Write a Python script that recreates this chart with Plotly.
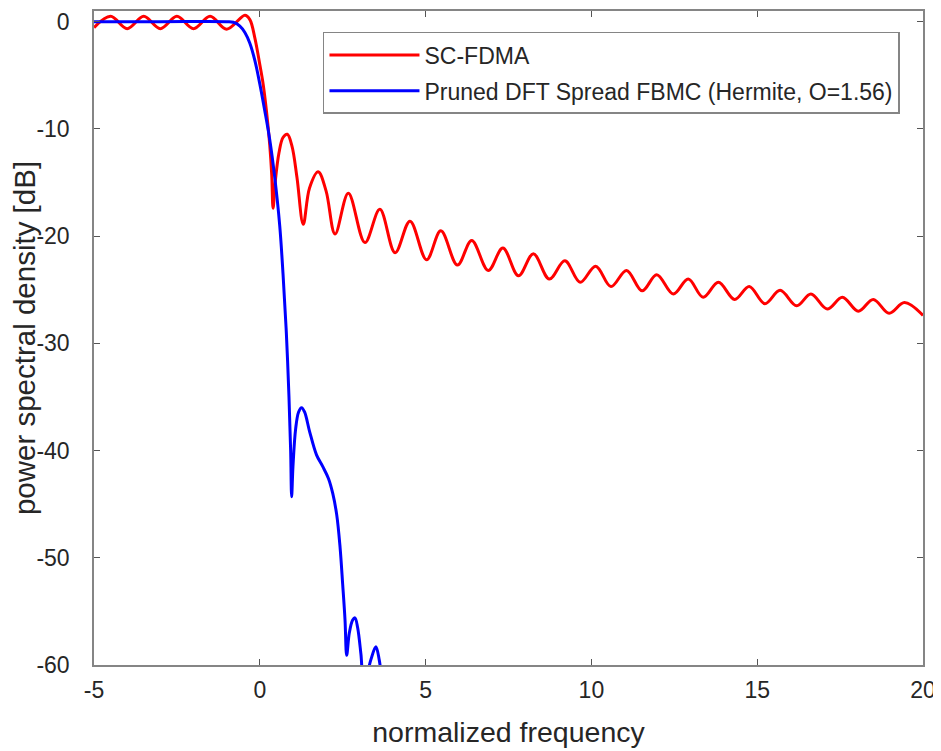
import plotly.graph_objects as go

# ---- data ----
sc_fdma_x = [-5.0, -4.5, -4.0, -3.5, -3.0, -2.5, -2.0, -1.5, -1.0, -0.45,
             -0.3, -0.15, 0.0, 0.1, 0.2, 0.3, 0.36, 0.4, 0.47, 0.58, 0.7,
             0.83, 0.97, 1.12, 1.31, 1.5, 1.76, 2.0, 2.27, 2.67, 3.17, 3.62,
             4.08, 4.53, 5.03, 5.46, 5.96, 6.39, 6.89, 7.33, 7.8, 8.25, 8.73,
             9.2, 9.66, 10.13, 10.59, 11.06, 11.53, 11.97, 12.47, 12.92,
             13.37, 13.83, 14.32, 14.76, 15.23, 15.69, 16.19, 16.62, 17.11,
             17.57, 18.05, 18.5, 18.98, 19.44, 20.0]
sc_fdma_y = [-0.55, 0.5, -0.65, 0.5, -0.65, 0.5, -0.65, 0.5, -0.7, 0.6,
             0.2, -1.5, -4.0, -5.8, -8.3, -11.5, -14.3, -17.4, -14.8, -12.2,
             -10.8, -10.5, -11.6, -14.5, -18.9, -15.5, -14.0, -15.8, -19.8,
             -16.0, -20.6, -17.5, -21.55, -18.6, -22.2, -19.5, -22.7, -20.4,
             -23.2, -21.1, -23.7, -21.65, -24.0, -22.3, -24.3, -22.8, -24.7,
             -23.2, -25.1, -23.6, -25.4, -24.0, -25.7, -24.3, -25.9, -24.7,
             -26.3, -25.05, -26.5, -25.4, -26.8, -25.7, -27.0, -25.9, -27.2,
             -26.2, -27.4]

fbmc_x = [-5.0, -3.0, -1.0, -0.8, -0.6, -0.45, -0.3, -0.15, 0.0, 0.15, 0.3,
          0.45, 0.6, 0.7, 0.8, 0.88, 0.93, 0.96, 1.0, 1.08, 1.17, 1.26, 1.35,
          1.5, 1.71, 1.9, 2.07, 2.2, 2.32, 2.42, 2.5, 2.57, 2.62, 2.7, 2.8,
          2.87, 2.95, 3.05, 3.13, 3.22, 3.35, 3.5, 3.6, 3.7]
fbmc_y = [0.0, 0.0, 0.0, -0.05, -0.4, -1.0, -2.0, -3.6, -5.8, -8.3, -11.0,
          -14.5, -19.0, -23.5, -29.0, -35.0, -40.0, -44.3, -41.5, -38.0,
          -36.4, -36.0, -36.4, -38.2, -40.4, -41.5, -42.6, -44.0, -46.0,
          -49.0, -52.5, -55.8, -59.1, -57.0, -55.8, -55.6, -56.5, -59.0,
          -61.5, -61.0, -59.5, -58.3, -59.5, -62.0]

series_names = ["SC-FDMA", "Pruned DFT Spread FBMC (Hermite, O=1.56)"]
x_ticks = [-5, 0, 5, 10, 15, 20]
y_ticks = [-60, -50, -40, -30, -20, -10, 0]

FONT = "Liberation Sans, Arial, sans-serif"
TXT = "#262626"
FRAME = "#858585"

fig = go.Figure()
fig.add_trace(go.Scatter(x=sc_fdma_x, y=sc_fdma_y, mode="lines",
                         name=series_names[0], legendgroup="a",
                         line=dict(color="#ff0000", width=3, shape="spline", smoothing=1.0)))
fig.add_trace(go.Scatter(x=fbmc_x, y=fbmc_y, mode="lines",
                         name=series_names[1], legendgroup="b",
                         line=dict(color="#0000ff", width=3, shape="spline", smoothing=1.0)))

axis_common = dict(showgrid=False, zeroline=False, showline=True, mirror="ticks",
                   linecolor=FRAME, linewidth=1.5, ticks="inside", ticklen=6,
                   tickcolor="#555555", tickwidth=1, ticklabeloverflow="allow",
                   tickfont=dict(family=FONT, size=23, color=TXT))

fig.update_xaxes(range=[-5, 20], tickvals=x_ticks, ticktext=[str(v) for v in x_ticks],
                 title=dict(text="normalized frequency", font=dict(family=FONT, size=28.5, color=TXT), standoff=20),
                 ticklabelstandoff=4, **axis_common)
fig.update_yaxes(range=[-60, 1], tickvals=y_ticks, ticktext=[str(v) for v in y_ticks],
                 title=dict(text="power spectral density [dB]", font=dict(family=FONT, size=29.5, color=TXT), standoff=0),
                 ticklabelstandoff=18, **axis_common)

fig.update_layout(
    width=933, height=743,
    margin=dict(l=86, r=18, t=1, b=86),
    plot_bgcolor="white", paper_bgcolor="white",
    legend=dict(x=0.2762, y=0.968, xanchor="left", yanchor="top",
                bgcolor="white", bordercolor=FRAME, borderwidth=1.5,
                font=dict(family=FONT, size=23, color=TXT),
                itemwidth=90, tracegroupgap=3),
    showlegend=True,
)

fig.write_html("out.html")
